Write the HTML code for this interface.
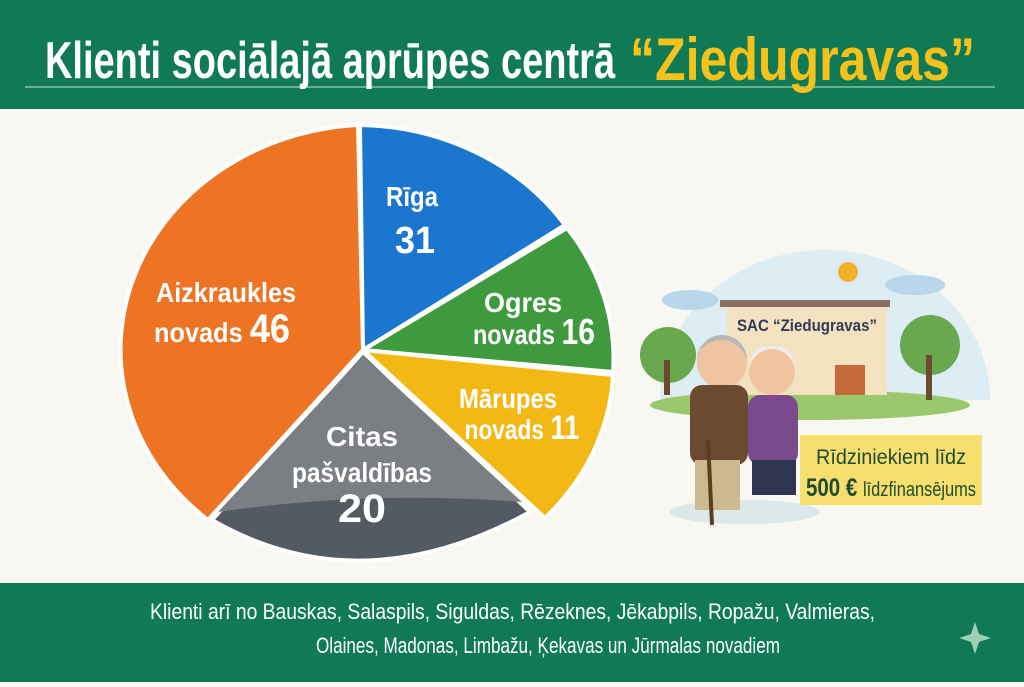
<!DOCTYPE html>
<html><head><meta charset="utf-8"><style>
html,body{margin:0;padding:0}
body{width:1024px;height:682px;overflow:hidden;background:#f8f7f1;font-family:"Liberation Sans",sans-serif}
</style></head><body>
<svg width="1024" height="682" viewBox="0 0 1024 682" xmlns="http://www.w3.org/2000/svg" font-family="'Liberation Sans',sans-serif" font-weight="bold">
<rect width="1024" height="682" fill="#f8f7f1"/>
<rect width="1024" height="109" fill="#0f7a55"/>
<line x1="25" y1="87" x2="995" y2="87" stroke="#8fc6a8" stroke-width="2" opacity="0.7"/>
<text x="45" y="78" font-size="52" fill="#fff" textLength="570" lengthAdjust="spacingAndGlyphs">Klienti sociālajā aprūpes centrā</text>
<text x="630" y="80" font-size="60" fill="#f4c21a" textLength="345" lengthAdjust="spacingAndGlyphs">“Ziedugravas”</text>
<rect y="583" width="1024" height="99" fill="#0f7a55"/>
<text x="150" y="619" font-size="22" fill="#fff" font-weight="normal" textLength="725" lengthAdjust="spacingAndGlyphs">Klienti arī no Bauskas, Salaspils, Siguldas, Rēzeknes, Jēkabpils, Ropažu, Valmieras,</text>
<text x="316" y="653" font-size="22" fill="#fff" font-weight="normal" textLength="464" lengthAdjust="spacingAndGlyphs">Olaines, Madonas, Limbažu, Ķekavas un Jūrmalas novadiem</text>
<path d="M975 622 L979 634 L991 638 L979 642 L975 654 L971 642 L959 638 L971 634Z" fill="#9fcfb5"/>
<!-- pie -->
<g stroke="#fff" stroke-width="4" stroke-linejoin="round">
<path d="M363 350 L358 125 A252 225 0 0 0 208 520 Z" fill="#ee7423"/>
<path d="M363 350 L360 125 A252 225 0 0 1 565 225 Z" fill="#1a76cf"/>
<path d="M363 350 L567 228 A252 225 0 0 1 613 372 Z" fill="#3f9a3e"/>
<path d="M363 350 L613 375 A252 225 0 0 1 545 518 Z" fill="#f3b814"/>
<path d="M363 352 L212 520 Q360 605 530 512 Z" fill="#535a62"/>
</g>
<path d="M363 356 L218 512 Q370 490 522 502 Z" fill="#7b7e82"/>
<g fill="#fff" text-anchor="middle">
<text x="412" y="206" font-size="28" textLength="52" lengthAdjust="spacingAndGlyphs">Rīga</text>
<text x="415" y="253" font-size="38" textLength="40" lengthAdjust="spacingAndGlyphs">31</text>
<text x="523" y="312" font-size="28" textLength="78" lengthAdjust="spacingAndGlyphs">Ogres</text>
<text x="534" y="344" font-size="28" textLength="122" lengthAdjust="spacingAndGlyphs">novads <tspan font-size="36">16</tspan></text>
<text x="508" y="408" font-size="28" textLength="98" lengthAdjust="spacingAndGlyphs">Mārupes</text>
<text x="522" y="439" font-size="28" textLength="115" lengthAdjust="spacingAndGlyphs">novads <tspan font-size="34">11</tspan></text>
<text x="226" y="302" font-size="28" textLength="140" lengthAdjust="spacingAndGlyphs">Aizkraukles</text>
<text x="222" y="342" font-size="28" textLength="136" lengthAdjust="spacingAndGlyphs">novads <tspan font-size="40">46</tspan></text>
<text x="362" y="446" font-size="28" textLength="72" lengthAdjust="spacingAndGlyphs">Citas</text>
<text x="362" y="482" font-size="28" textLength="140" lengthAdjust="spacingAndGlyphs">pašvaldības</text>
<text x="362" y="522" font-size="40" textLength="48" lengthAdjust="spacingAndGlyphs">20</text>
</g>
<!-- illustration -->
<path d="M660 400 A165 150 0 0 1 990 400 Z" fill="#dcedf3"/>
<ellipse cx="810" cy="405" rx="160" ry="15" fill="#9bc76d"/>
<circle cx="848" cy="272" r="10" fill="#f2b02b"/>
<ellipse cx="690" cy="300" rx="28" ry="10" fill="#b9d6ea"/>
<ellipse cx="915" cy="285" rx="30" ry="10" fill="#b9d6ea"/>
<rect x="727" y="305" width="160" height="90" fill="#f3e2bf"/>
<rect x="720" y="300" width="170" height="7" fill="#8a6e60"/>
<text x="807" y="331" font-size="17" fill="#2f3b55" text-anchor="middle" textLength="140" lengthAdjust="spacingAndGlyphs">SAC “Ziedugravas”</text>
<rect x="835" y="365" width="30" height="30" fill="#c4693a"/>
<circle cx="668" cy="355" r="28" fill="#6aa84f"/><rect x="664" y="360" width="6" height="35" fill="#6b4a2e"/>
<circle cx="930" cy="345" r="30" fill="#6aa84f"/><rect x="926" y="355" width="6" height="45" fill="#6b4a2e"/>
<ellipse cx="745" cy="512" rx="75" ry="12" fill="#dde8ea"/>
<circle cx="722" cy="363" r="25" fill="#f0c4a0"/><path d="M697 360 A25 25 0 0 1 747 360 L742 350 Q722 330 700 350Z" fill="#b8b8b8"/>
<rect x="690" y="385" width="58" height="80" rx="12" fill="#6c4a32"/>
<rect x="695" y="460" width="45" height="50" fill="#cdb990"/>
<line x1="708" y1="440" x2="712" y2="525" stroke="#5c3d24" stroke-width="4"/>
<circle cx="772" cy="372" r="23" fill="#f0c4a0"/><path d="M749 372 A23 23 0 0 1 795 372 Q795 345 772 346 Q749 345 749 372Z" fill="#eee"/>
<rect x="748" y="395" width="50" height="70" rx="12" fill="#7b4a8c"/>
<rect x="752" y="460" width="44" height="35" fill="#2f3650"/>
<rect x="800" y="435" width="182" height="70" fill="#f7df6e"/>
<text x="891" y="464" font-size="21" fill="#1f4b2e" text-anchor="middle" font-weight="normal" textLength="150" lengthAdjust="spacingAndGlyphs">Rīdziniekiem līdz</text>
<text x="806" y="496" font-size="25" fill="#1f4b2e" textLength="170" lengthAdjust="spacingAndGlyphs">500 € <tspan font-size="20" font-weight="normal">līdzfinansējums</tspan></text>
</svg>
</body></html>
